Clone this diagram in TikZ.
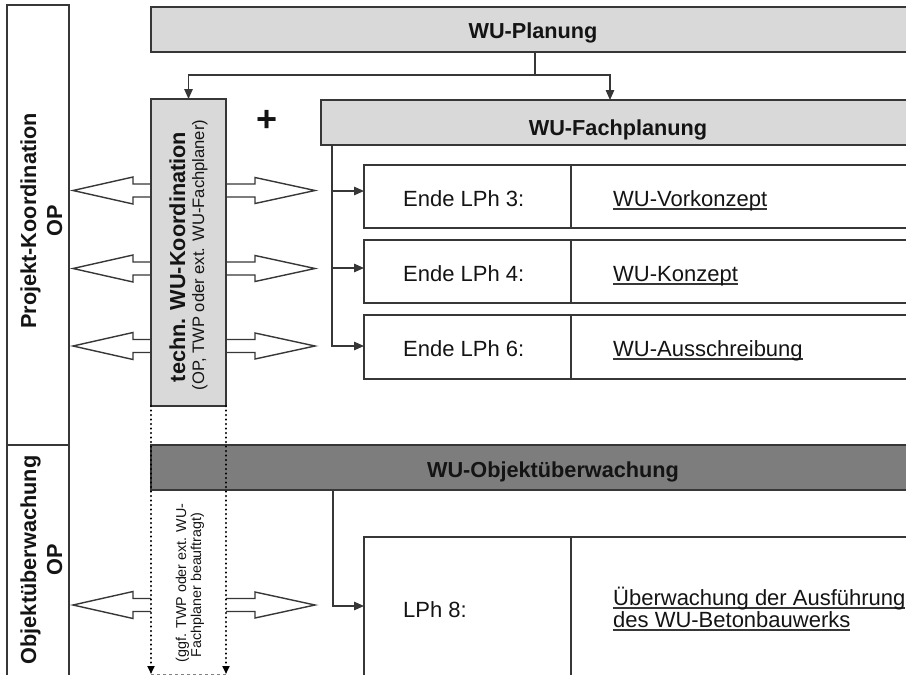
\documentclass[tikz,border=0pt]{standalone}
\usepackage{fontspec}
\setmainfont{Liberation Sans}
\usetikzlibrary{arrows.meta,calc}
\definecolor{lightfill}{RGB}{217,217,217}
\definecolor{darkfill}{RGB}{125,125,125}
\definecolor{linec}{RGB}{55,55,55}
\definecolor{textc}{RGB}{20,20,20}
\newcommand{\myul}[1]{\setbox0=\hbox{#1}\rlap{\color{linec}\rule[-3.6pt]{\wd0}{1.2pt}}\box0}
\begin{document}
\begin{tikzpicture}[x=1pt,y=-1pt,
  box/.style={draw=linec, line width=1.5pt, rectangle, inner sep=0pt, outer sep=0pt},
  lightbox/.style={box, fill=lightfill},
  darkbox/.style={box, fill=darkfill},
  conn/.style={draw=linec, line width=1.4pt},
  arrowtip/.style={-{Triangle[length=10pt,width=8.5pt]}},
  hollow/.style={draw=linec, line width=1.4pt, fill=white, line join=miter},
  dotline/.style={draw=black, line width=2.4pt, line cap=round, dash pattern=on 0.1pt off 4.4pt},
  lbl/.style={inner sep=0pt, text=textc, font=\fontsize{22}{26}\selectfont},
  blbl/.style={lbl, font=\fontsize{21.7}{26}\selectfont\bfseries}
]
\useasboundingbox (0,0) rectangle (906,675);
\clip (0,0) rectangle (906,675);

% hollow double arrows (drawn first, boxes cover their ends)
\foreach \yc in {190.5,268.5,346,605} {
  \draw[hollow] (226,\yc-6.5) -- (255,\yc-6.5) -- (255,\yc-13) -- (315,\yc) -- (255,\yc+13) -- (255,\yc+6.5) -- (226,\yc+6.5);
  \draw[hollow] (151,\yc-6.5) -- (133,\yc-6.5) -- (133,\yc-13.5) -- (73,\yc) -- (133,\yc+13.5) -- (133,\yc+6.5) -- (151,\yc+6.5);
}

% boxes
\node[box, minimum width=62pt, minimum height=440pt] (projekt) at (38,225) {};
\node[box, minimum width=62pt, minimum height=260pt] (objL) at (38,575) {};
\node[lightbox, minimum width=769pt, minimum height=45pt] (planung) at (535.5,29.5) {};
\node[lightbox, minimum width=75pt, minimum height=307pt] (techn) at (188.5,252.5) {};
\node[lightbox, minimum width=599pt, minimum height=45pt] (fach) at (620.5,122.5) {};
\node[box, minimum width=556pt, minimum height=63pt] (r1) at (642,196.5) {};
\node[box, minimum width=556pt, minimum height=63pt] (r2) at (642,271.5) {};
\node[box, minimum width=556pt, minimum height=64pt] (r3) at (642,347) {};
\node[darkbox, minimum width=769pt, minimum height=45pt] (obj) at (535.5,467.5) {};
\node[box, minimum width=556pt, minimum height=200pt] (r8) at (642,637) {};

% dividers
\coordinate (dv) at (571,0);
\foreach \r in {r1,r2,r3,r8} {
  \draw[conn, line width=1.5pt] (\r.north -| dv) -- (\r.south -| dv);
}

% connectors from WU-Planung
\coordinate (pj) at (535,75);
\coordinate (fa) at (610,0);
\draw[conn] (planung.south -| pj) -- (pj);
\draw[conn, arrowtip] (pj) -| (techn.north);
\draw[conn, arrowtip] (pj) -| (fach.north -| fa);

% connectors from WU-Fachplanung
\coordinate (fv) at (332,0);
\coordinate (a1) at (364,191);
\coordinate (a2) at (364,268);
\coordinate (a3) at (364,346);
\draw[conn, arrowtip] (fach.south -| fv) |- (a3);
\draw[conn, arrowtip] (fv |- a1) -- (a1);
\draw[conn, arrowtip] (fv |- a2) -- (a2);

% connector from WU-Objektueberwachung
\coordinate (ov) at (333,0);
\coordinate (a8) at (364,606);
\draw[conn, arrowtip] (obj.south -| ov) |- (a8);

% dotted lines below techn. WU-Koordination
\coordinate (d1) at (151,674);
\coordinate (d2) at (226,674);
\draw[gray, line width=1pt, dashed] (d1) -- (d2);
\draw[dotline, -{Triangle[length=8pt,width=7pt]}] (techn.south west) -- (d1);
\draw[dotline, -{Triangle[length=8pt,width=7pt]}] (techn.south east) -- (d2);

% texts
\node[blbl, anchor=base] (tplan) at (533,38) {WU-Planung};
\node[blbl, anchor=base] (tfach) at (618,135) {WU-Fachplanung};
\node[blbl, anchor=base] (tobj) at (553,477) {WU-Objektüberwachung};
\node[lbl, anchor=base west] (e3) at (403,206) {Ende LPh 3:};
\node[lbl, anchor=base west] (e4) at (403,281) {Ende LPh 4:};
\node[lbl, anchor=base west] (e6) at (403,356) {Ende LPh 6:};
\node[lbl, anchor=base west] (v3) at (613,206) {\myul{WU-Vorkonzept}};
\node[lbl, anchor=base west] (v4) at (613,281) {\myul{WU-Konzept}};
\node[lbl, anchor=base west] (v6) at (613,356) {\myul{WU-Ausschreibung}};
\node[lbl, anchor=base west] (e8) at (403,617) {LPh 8:};
\node[lbl, anchor=base west] (v8a) at (613,605) {\myul{Überwachung der Ausführung}};
\node[lbl, anchor=base west] (v8b) at (613,627) {\myul{des WU-Betonbauwerks}};
\node[inner sep=0pt, text=textc, font=\fontsize{36}{36}\selectfont\bfseries] (plus) at (267,121) {+};

\node[blbl, rotate=90, anchor=base] (tproj) at (36,221) {Projekt-Koordination};
\node[blbl, rotate=90, anchor=base] (tprojop) at (62,221) {OP};
\node[blbl, rotate=90, anchor=base] (tobjl) at (36,560) {Objektüberwachung};
\node[blbl, rotate=90, anchor=base] (tobjop) at (62,560) {OP};
\node[blbl, rotate=90, anchor=base] (ttechn) at (185,257) {techn. WU-Koordination};
\node[lbl, font=\fontsize{16.6}{20}\selectfont, rotate=90, anchor=base] (ttechn2) at (204,255) {(OP, TWP oder ext. WU-Fachplaner)};
\node[lbl, font=\fontsize{14.3}{16}\selectfont, rotate=90, anchor=base] (ggf1) at (186,583) {(ggf. TWP oder ext. WU-};
\node[lbl, font=\fontsize{14.3}{16}\selectfont, rotate=90, anchor=base] (ggf2) at (201,585) {Fachplaner beauftragt)};
\end{tikzpicture}
\end{document}
